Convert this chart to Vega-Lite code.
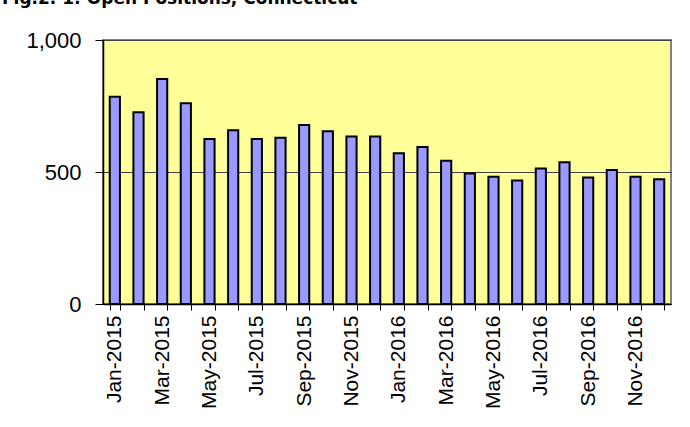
{
  "$schema": "https://vega.github.io/schema/vega-lite/v6.json",
  "autosize": "none",
  "width": 568,
  "height": 264,
  "padding": {"left": 103, "top": 40, "right": 19, "bottom": 123},
  "background": "white",
  "title": {
    "text": "Fig.2. 1: Open Positions, Connecticut",
    "anchor": "start",
    "dx": -24,
    "dy": -17,
    "font": "DejaVu Sans",
    "fontSize": 17,
    "fontWeight": "bold",
    "color": "black"
  },
  "config": {
    "view": {"fill": "#FFFF99", "stroke": "#808080", "strokeWidth": 2},
    "font": "Liberation Sans"
  },
  "data": {
    "values": [
      {"month": "Jan-2015", "count": 785},
      {"month": "Feb-2015", "count": 726},
      {"month": "Mar-2015", "count": 852},
      {"month": "Apr-2015", "count": 760},
      {"month": "May-2015", "count": 625},
      {"month": "Jun-2015", "count": 658},
      {"month": "Jul-2015", "count": 625},
      {"month": "Aug-2015", "count": 630},
      {"month": "Sep-2015", "count": 678},
      {"month": "Oct-2015", "count": 654},
      {"month": "Nov-2015", "count": 634},
      {"month": "Dec-2015", "count": 634},
      {"month": "Jan-2016", "count": 571},
      {"month": "Feb-2016", "count": 595},
      {"month": "Mar-2016", "count": 543},
      {"month": "Apr-2016", "count": 494},
      {"month": "May-2016", "count": 482},
      {"month": "Jun-2016", "count": 468},
      {"month": "Jul-2016", "count": 513},
      {"month": "Aug-2016", "count": 537},
      {"month": "Sep-2016", "count": 479},
      {"month": "Oct-2016", "count": 508},
      {"month": "Nov-2016", "count": 482},
      {"month": "Dec-2016", "count": 473}
    ]
  },
  "mark": {"type": "bar", "fill": "#9999FF", "stroke": "black", "strokeWidth": 2},
  "encoding": {
    "x": {
      "field": "month",
      "type": "nominal",
      "sort": null,
      "scale": {"paddingInner": 0.57, "paddingOuter": 0.285},
      "axis": {
        "orient": "bottom",
        "title": null,
        "tickBand": "extent",
        "labelAngle": -90,
        "labelAlign": "right",
        "labelBaseline": "middle",
        "labelFontSize": 21,
        "labelColor": "black",
        "labelPadding": 5,
        "labelExpr": "indexof(['Jan','Mar','May','Jul','Sep','Nov'], slice(datum.label,0,3)) >= 0 ? datum.label : ''",
        "labelOverlap": false,
        "tickColor": "black",
        "tickSize": 6,
        "domainColor": "black",
        "domainWidth": 1.5,
        "grid": false
      }
    },
    "y": {
      "field": "count",
      "type": "quantitative",
      "scale": {"domain": [0, 1000], "nice": false},
      "axis": {
        "title": null,
        "values": [0, 500, 1000],
        "format": ",.0f",
        "labelFontSize": 22,
        "labelColor": "black",
        "labelPadding": 14,
        "tickColor": "black",
        "tickSize": 8,
        "domainColor": "black",
        "domainWidth": 1.5,
        "grid": true,
        "gridColor": "#404040",
        "gridWidth": 1.2,
        "gridOpacity": 1
      }
    }
  }
}
